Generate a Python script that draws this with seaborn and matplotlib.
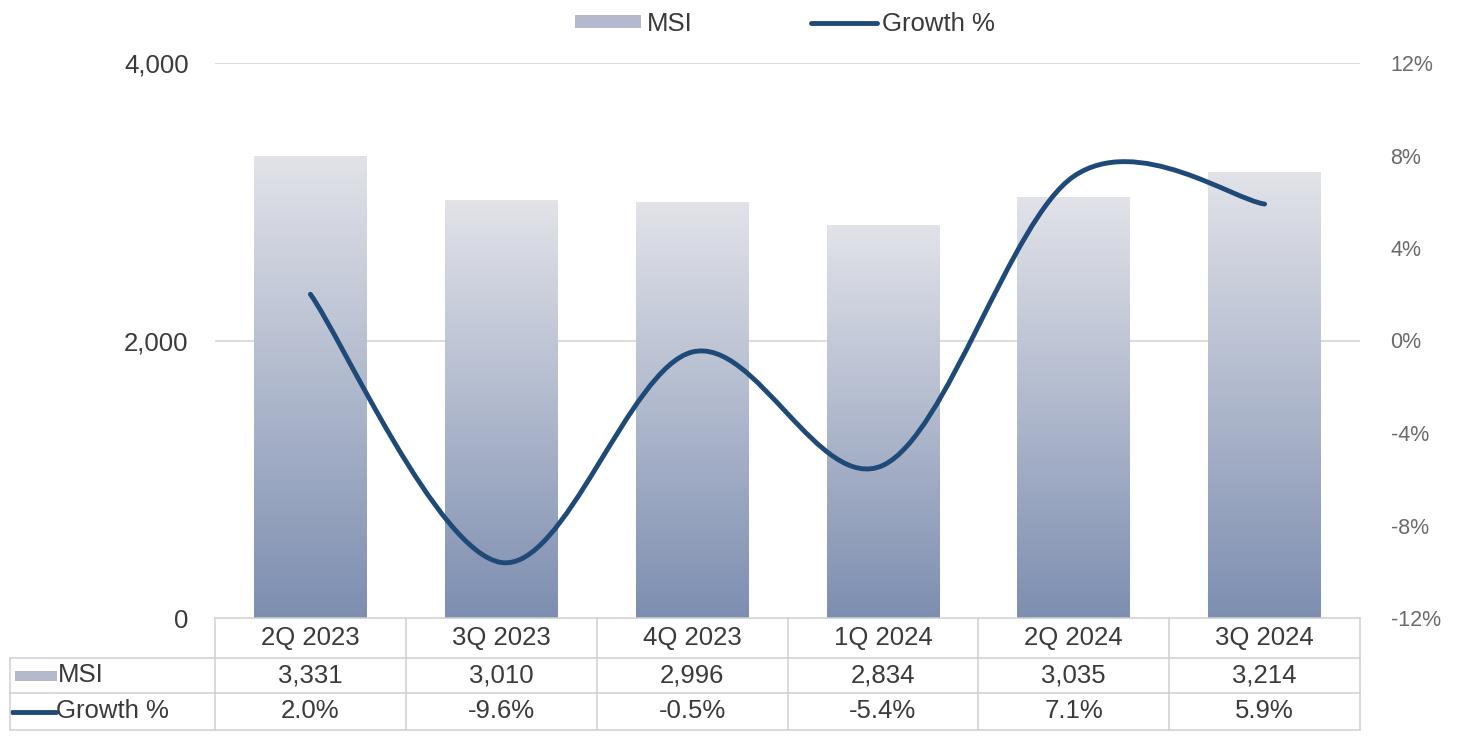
import numpy as np
import pandas as pd
import matplotlib
matplotlib.use("Agg")
import matplotlib.pyplot as plt
import seaborn as sns
from matplotlib.path import Path
from matplotlib.patches import PathPatch, Rectangle
from matplotlib.lines import Line2D
from matplotlib.colors import LinearSegmentedColormap
from matplotlib.ticker import FuncFormatter

quarters = ["2Q 2023", "3Q 2023", "4Q 2023", "1Q 2024", "2Q 2024", "3Q 2024"]
msi = [3331, 3010, 2996, 2834, 3035, 3214]
growth = [2.0, -9.6, -0.5, -5.4, 7.1, 5.9]

LINE_COLOR = "#1f4a78"
TEXT = "#3a3a3a"
GRID = "#d9d9d9"
FS = 18.5

sns.set_theme(style="white")
plt.rcParams["font.family"] = ["Liberation Sans", "DejaVu Sans"]

fig = plt.figure(figsize=(14.78, 7.36), dpi=100)
ax = fig.add_axes([215 / 1478, 1 - 618 / 736, 1145 / 1478, 555 / 736])

df = pd.DataFrame({"quarter": quarters, "msi": msi})
sns.barplot(data=df, x="quarter", y="msi", ax=ax, width=0.59, color="#b8bdcc", zorder=2)

# gradient fill for each bar
cmap = LinearSegmentedColormap.from_list("msi", ["#e2e3e9", "#7d8eb0"])
grad = np.linspace(0, 1, 256).reshape(-1, 1)
for p in ax.patches:
    x0, y0 = p.get_x(), p.get_y()
    w, h = p.get_width(), p.get_height()
    im = ax.imshow(grad, cmap=cmap, aspect="auto", extent=[x0, x0 + w, y0, y0 + h],
                   origin="upper", zorder=2)
    im.set_clip_path(p)
    p.set_facecolor("none")
    p.set_edgecolor("none")
ax.set_ylim(0, 4000)
ax.set_xlim(-0.5, 5.5)

ax.set_yticks([0, 2000, 4000])
ax.yaxis.set_major_formatter(FuncFormatter(lambda v, _: f"{v:,.0f}"))
ax.tick_params(axis="y", length=0, pad=19, labelsize=FS, labelcolor=TEXT)
ax.set_xticks([])
ax.set_xlabel("")
ax.set_ylabel("")
for y in [2000, 4000]:
    ax.axhline(y, color=GRID, lw=1.3, zorder=1)
for s in ax.spines.values():
    s.set_visible(False)

# growth line on secondary axis, smoothed with bezier segments
ax2 = ax.twinx()
ax2.set_ylim(-12, 12)
ax2.set_yticks(np.arange(-12, 13, 4))
ax2.yaxis.set_major_formatter(FuncFormatter(lambda v, _: f"{v:.0f}%"))
ax2.tick_params(axis="y", length=0, pad=22, labelsize=15.5, labelcolor="#6a6a6a")
for s in ax2.spines.values():
    s.set_visible(False)
ax2.grid(False)

xs = np.arange(len(growth), dtype=float)
ys = np.array(growth)
pts = np.column_stack([xs, ys])
ext = np.vstack([pts[0], pts, pts[-1]])
verts = [tuple(pts[0])]
codes = [Path.MOVETO]
for i in range(len(pts) - 1):
    p0, p1, p2, p3 = ext[i], ext[i + 1], ext[i + 2], ext[i + 3]
    c1 = p1 + (p2 - p0) / 6
    c2 = p2 - (p3 - p1) / 6
    verts += [tuple(c1), tuple(c2), tuple(p2)]
    codes += [Path.CURVE4] * 3
ax2.add_patch(PathPatch(Path(verts, codes), facecolor="none", edgecolor=LINE_COLOR,
                        lw=3.5, capstyle="round", zorder=5))
ax2.set_xlim(-0.5, 5.5)

# legend
handles = [Rectangle((0, 0), 1, 1, facecolor="#b4bacb", edgecolor="none"),
           Line2D([0], [0], color=LINE_COLOR, lw=3.5)]
fig.legend(handles, ["MSI", "Growth %"], loc="center", bbox_to_anchor=(785 / 1478, 1 - 24 / 736),
           ncol=2, frameon=False, fontsize=FS, handlelength=2.6, handleheight=0.4,
           columnspacing=4.6, handletextpad=0.2, labelcolor=TEXT)

# data table below the axis
tr = ax.transAxes
ncol = len(quarters)
row_y = [0, -40 / 555, -75 / 555, -112 / 555]
left = -205 / 1145
lc = dict(color="#cfcfcf", lw=1.1, transform=tr, clip_on=False, zorder=3)
ax.add_line(Line2D([0, 1], [row_y[0]] * 2, **lc))
for y in row_y[1:]:
    ax.add_line(Line2D([left, 1], [y] * 2, **lc))
for i in range(ncol + 1):
    ax.add_line(Line2D([i / ncol] * 2, [row_y[0], row_y[3]], **lc))
ax.add_line(Line2D([left] * 2, [row_y[1], row_y[3]], **lc))

tk = dict(transform=tr, ha="center", va="center", fontsize=FS, color=TEXT, clip_on=False)
for i, q in enumerate(quarters):
    cx = (i + 0.5) / ncol
    ax.text(cx, (row_y[0] + row_y[1]) / 2, q, **tk)
    ax.text(cx, (row_y[1] + row_y[2]) / 2, f"{msi[i]:,}", **tk)
    ax.text(cx, (row_y[2] + row_y[3]) / 2, f"{growth[i]:.1f}%", **tk)

ym = (row_y[1] + row_y[2]) / 2
yg = (row_y[2] + row_y[3]) / 2
ax.add_patch(Rectangle((-200 / 1145, ym - 5 / 555), 42 / 1145, 10 / 555, transform=tr,
                       facecolor="#b4bacb", edgecolor="none", clip_on=False))
ax.text(-157 / 1145, ym, "MSI", transform=tr, ha="left", va="center", fontsize=FS,
        color=TEXT, clip_on=False)
ax.add_line(Line2D([-203 / 1145, -159 / 1145], [yg, yg], color=LINE_COLOR, lw=3.5,
                   transform=tr, clip_on=False))
ax.text(-159 / 1145, yg, "Growth %", transform=tr, ha="left", va="center", fontsize=FS,
        color=TEXT, clip_on=False)

fig.savefig("out.png", dpi=100, facecolor="white")
